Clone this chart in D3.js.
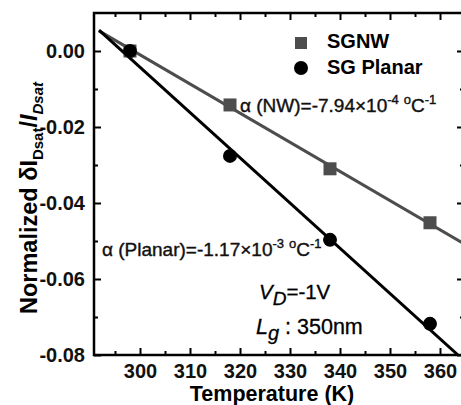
<!DOCTYPE html>
<html>
<head>
<meta charset="utf-8">
<script src="https://cdn.jsdelivr.net/npm/d3@7"></script>
<style>
  body { margin: 0; background: #fff; }
  text { font-family: "Liberation Sans", Arial, sans-serif; }
</style>
</head>
<body>
<div class="chart"></div>
<script>
// temperatures (K)
var temps = [298, 318, 338, 358];
// normalized dIDsat/IDsat
var sgnw = [0, -0.0142, -0.031, -0.0452];
var planar = [0, -0.0276, -0.0497, -0.0718];
// fitted lines, endpoints
var nwFit = [[291.8, 0.0053], [364.8, -0.0507]];
var planarFit = [[291.8, 0.0055], [363.6, -0.08]];
var xTicks = [300, 310, 320, 330, 340, 350, 360];
var yTicks = [0.00, -0.02, -0.04, -0.06, -0.08];
var minorX = [295, 305, 315, 325, 335, 345, 355];
var minorY = [-0.01, -0.03, -0.05, -0.07];

var width = 461,
  height = 405;
var pLeft = 94, pRight = 464, pTop = 13, pBottom = 355;

var svg = d3.select(".chart")
  .append("svg")
  .attr("width", width)
  .attr("height", height);

var x = d3.scaleLinear().domain([290.8, 364.8]).range([pLeft, pRight]);
var y = d3.scaleLinear().domain([-0.08, 0.01]).range([pBottom, pTop]);

// plain hyphen instead of the unicode minus
var yFmt = function(d) { return d.toFixed(2); };

// clip for the fit lines
svg.append("clipPath").attr("id", "plot")
  .append("rect")
  .attr("x", pLeft).attr("y", pTop)
  .attr("width", pRight - pLeft).attr("height", pBottom - pTop);

function styleAxis(g) {
  g.select(".domain").remove();
  g.selectAll("line").attr("stroke", "#000").attr("stroke-width", 2);
  g.selectAll("text")
    .attr("font-size", 20)
    .attr("font-weight", "bold")
    .attr("font-family", "'Liberation Sans', Arial, sans-serif")
    .attr("fill", "#111");
}

// bottom
svg.append("g")
  .attr("transform", "translate(0," + pBottom + ")")
  .call(d3.axisBottom(x).tickValues(xTicks).tickFormat(d3.format("d")).tickSize(-7).tickPadding(9))
  .call(styleAxis);
svg.append("g")
  .attr("transform", "translate(0," + pBottom + ")")
  .call(d3.axisBottom(x).tickValues(minorX).tickFormat("").tickSize(-4))
  .call(styleAxis);
// top
svg.append("g")
  .attr("transform", "translate(0," + pTop + ")")
  .call(d3.axisTop(x).tickValues(xTicks).tickFormat("").tickSize(-7))
  .call(styleAxis);
svg.append("g")
  .attr("transform", "translate(0," + pTop + ")")
  .call(d3.axisTop(x).tickValues(minorX).tickFormat("").tickSize(-4))
  .call(styleAxis);
// left
svg.append("g")
  .attr("transform", "translate(" + pLeft + ",0)")
  .call(d3.axisLeft(y).tickValues(yTicks).tickFormat(yFmt).tickSize(-7).tickPadding(9))
  .call(styleAxis);
svg.append("g")
  .attr("transform", "translate(" + pLeft + ",0)")
  .call(d3.axisLeft(y).tickValues(minorY).tickFormat("").tickSize(-4))
  .call(styleAxis);
// right
svg.append("g")
  .attr("transform", "translate(" + pRight + ",0)")
  .call(d3.axisRight(y).tickValues(yTicks).tickFormat("").tickSize(-7))
  .call(styleAxis);
svg.append("g")
  .attr("transform", "translate(" + pRight + ",0)")
  .call(d3.axisRight(y).tickValues(minorY).tickFormat("").tickSize(-4))
  .call(styleAxis);

// frame
svg.append("rect")
  .attr("x", pLeft).attr("y", pTop)
  .attr("width", pRight - pLeft).attr("height", pBottom - pTop)
  .attr("fill", "none")
  .attr("stroke", "#000")
  .attr("stroke-width", 2.5);

var line = d3.line()
  .x(function(d) { return x(d[0]); })
  .y(function(d) { return y(d[1]); });

var plot = svg.append("g").attr("clip-path", "url(#plot)");

plot.append("path")
  .attr("d", line(nwFit))
  .attr("fill", "none")
  .attr("stroke", "#4d4d4d")
  .attr("stroke-width", 3);

plot.append("path")
  .attr("d", line(planarFit))
  .attr("fill", "none")
  .attr("stroke", "#000")
  .attr("stroke-width", 3);

// SGNW squares
plot.selectAll(".sq")
  .data(temps)
  .enter()
  .append("rect")
  .attr("x", function(d) { return x(d) - 6.5; })
  .attr("y", function(d, i) { return y(sgnw[i]) - 6.5; })
  .attr("width", 13)
  .attr("height", 13)
  .attr("fill", "#4d4d4d");

// planar circles
plot.selectAll(".dot")
  .data(temps)
  .enter()
  .append("circle")
  .attr("cx", function(d) { return x(d); })
  .attr("cy", function(d, i) { return y(planar[i]); })
  .attr("r", 7)
  .attr("fill", "#000");

// legend
svg.append("rect")
  .attr("x", 295).attr("y", 37)
  .attr("width", 12).attr("height", 12)
  .attr("fill", "#4d4d4d");
svg.append("text")
  .attr("x", 327).attr("y", 48)
  .attr("font-size", 20).attr("font-weight", "bold")
  .text("SGNW");
svg.append("circle")
  .attr("cx", 301).attr("cy", 68).attr("r", 7)
  .attr("fill", "#000");
svg.append("text")
  .attr("x", 327).attr("y", 74)
  .attr("font-size", 20).attr("font-weight", "bold")
  .text("SG Planar");

// alpha annotations
function alphaLabel(xp, yp, name, mant, exp) {
  var t = svg.append("text")
    .attr("x", xp).attr("y", yp)
    .attr("font-size", 19)
    .attr("fill", "#111")
    .attr("stroke", "#111")
    .attr("stroke-width", 0.4);
  t.append("tspan").text("\u03b1 (" + name + ")=-" + mant + "\u00d710");
  t.append("tspan").attr("font-size", 13).attr("dy", -8).text(exp);
  t.append("tspan").attr("font-size", 13).attr("dx", 5).text("o");
  t.append("tspan").attr("dy", 8).text("C");
  t.append("tspan").attr("font-size", 13).attr("dy", -8).text("-1");
}
alphaLabel(240, 112, "NW", "7.94", "-4");
alphaLabel(102, 256, "Planar", "1.17", "-3");

// conditions
var vd = svg.append("text")
  .attr("x", 259).attr("y", 299)
  .attr("font-size", 20.5)
  .attr("stroke", "#000").attr("stroke-width", 0.3);
vd.append("tspan").attr("font-style", "italic").text("V");
vd.append("tspan").attr("font-style", "italic").attr("font-size", 19).attr("dy", 6).text("D");
vd.append("tspan").attr("dy", -6).text("=-1V");

var lg = svg.append("text")
  .attr("x", 256).attr("y", 334)
  .attr("font-size", 21.5)
  .attr("stroke", "#000").attr("stroke-width", 0.3);
lg.append("tspan").attr("font-style", "italic").text("L");
lg.append("tspan").attr("font-style", "italic").attr("font-size", 20).attr("dy", 6).text("g");
lg.append("tspan").attr("dy", -6).text(" : 350nm");

// axis titles
svg.append("text")
  .attr("x", 272)
  .attr("y", 401)
  .attr("text-anchor", "middle")
  .attr("font-size", 21.5).attr("font-weight", "bold")
  .text("Temperature (K)");

var yt = svg.append("text")
  .attr("transform", "translate(37," + 198 + ") rotate(-90)")
  .attr("text-anchor", "middle")
  .attr("font-size", 23.5).attr("font-weight", "bold");
yt.append("tspan").text("Normalized \u03b4I");
yt.append("tspan").attr("font-size", 15).attr("dy", 6).text("Dsat");
yt.append("tspan").attr("dy", -6).text("/");
yt.append("tspan").attr("font-style", "italic").text("I");
yt.append("tspan").attr("font-style", "italic").attr("font-size", 15).attr("dy", 6).text("Dsat");
</script>
</body>
</html>
